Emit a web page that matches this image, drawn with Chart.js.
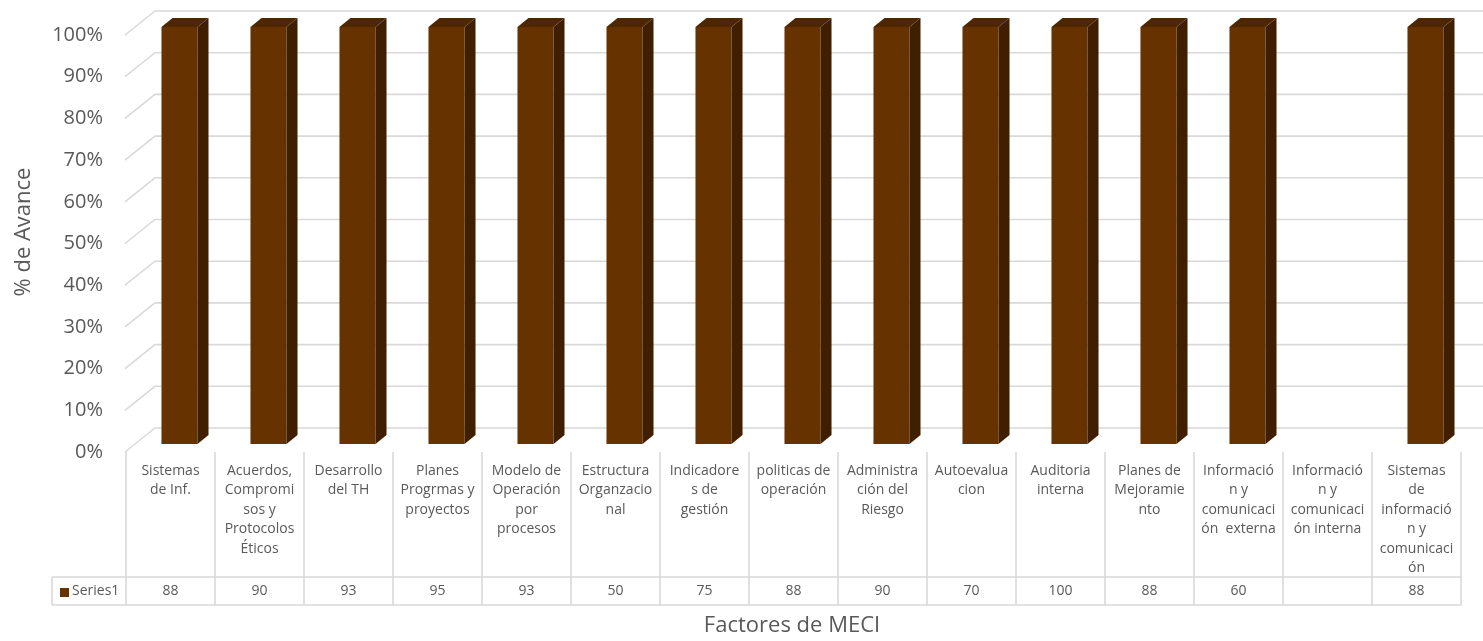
<!DOCTYPE html>
<html>
<head>
<meta charset="utf-8">
<script src="https://cdn.jsdelivr.net/npm/chart.js@4/dist/chart.umd.min.js"></script>
<style>
  html, body { margin: 0; padding: 0; background: #ffffff; }
  #wrap { width: 1483px; height: 641px; }
</style>
</head>
<body>
<div id="wrap"><canvas id="c" width="1483" height="641"></canvas></div>
<script>
// Factores de MECI — labels split the way the table cells wrap them
const categories = [
  ["Sistemas", "de Inf."],
  ["Acuerdos,", "Compromi", "sos y", "Protocolos", "Éticos"],
  ["Desarrollo", "del TH"],
  ["Planes", "Progrmas y", "proyectos"],
  ["Modelo de", "Operación", "por", "procesos"],
  ["Estructura", "Organzacio", "nal"],
  ["Indicadore", "s de", "gestión"],
  ["politicas de", "operación"],
  ["Administra", "ción del", "Riesgo"],
  ["Autoevalua", "cion"],
  ["Auditoria", "interna"],
  ["Planes de", "Mejoramie", "nto"],
  ["Informació", "n y", "comunicaci", "ón  externa"],
  ["Informació", "n y", "comunicaci", "ón interna"],
  ["Sistemas", "de", "informació", "n y", "comunicaci", "ón"]
];
const seriesName = "Series1";
const series1 = [88, 90, 93, 95, 93, 50, 75, 88, 90, 70, 100, 88, 60, null, 88];
const yTickValues = [0, 0.1, 0.2, 0.3, 0.4, 0.5, 0.6, 0.7, 0.8, 0.9, 1];
const xTitle = "Factores de MECI";
const yTitle = "% de Avance";

const FONT = "'Open Sans', 'Liberation Sans', sans-serif";
const TEXT = "#595959";
const GRID = "#d9d9d9";
const FRONT = "#663300";
const SIDE = "#3f1f00";
const TOP = "#4e2700";

// 3D geometry of the plot box
const wallDX = 30, wallDY = 24;   // back wall offset
const barDX = 9, barDY = 8;       // bars stand a little behind the front edge
const sideDX = 11, sideDY = 9;    // column depth

const threeD = {
  id: "threeD",
  beforeDatasetsDraw(chart) {
    const { ctx, chartArea: a } = chart;
    const ys = chart.scales.y;
    ctx.save();
    ctx.strokeStyle = GRID;
    ctx.lineWidth = 1.6;
    ys.ticks.forEach(t => {
      const y = ys.getPixelForValue(t.value);
      ctx.beginPath();
      ctx.moveTo(a.left - 1, y);
      ctx.lineTo(a.left - 1 + wallDX, y - wallDY);
      ctx.lineTo(chart.width + 10, y - wallDY);
      ctx.stroke();
    });
    ctx.restore();
    ctx.save();
    ctx.translate(barDX, -barDY);
  },
  afterDatasetsDraw(chart) {
    const { ctx, chartArea: a } = chart;
    ctx.restore();
    const meta = chart.getDatasetMeta(0);
    meta.data.forEach((el, i) => {
      if (series1[i] == null) return;
      const p = el.getProps(["x", "y", "base", "width"], true);
      const x0 = p.x - p.width / 2 + barDX;
      const x1 = p.x + p.width / 2 + barDX;
      const top = Math.max(p.y, a.top) - barDY;
      const bot = p.base - barDY;
      ctx.fillStyle = SIDE;
      ctx.beginPath();
      ctx.moveTo(x1, top);
      ctx.lineTo(x1 + sideDX, top - sideDY);
      ctx.lineTo(x1 + sideDX, bot - sideDY);
      ctx.lineTo(x1, bot);
      ctx.closePath();
      ctx.fill();
      ctx.fillStyle = TOP;
      ctx.beginPath();
      ctx.moveTo(x0, top);
      ctx.lineTo(x1, top);
      ctx.lineTo(x1 + sideDX, top - sideDY);
      ctx.lineTo(x0 + sideDX, top - sideDY);
      ctx.closePath();
      ctx.fill();
    });
  },
  afterDraw(chart) {
    const { ctx, chartArea: a } = chart;
    const xs = chart.scales.x;
    const n = categories.length;
    const cw = (a.right - a.left) / n;
    const rowTop = a.bottom;
    const valTop = 577, valBot = 605, legLeft = 52;

    // data table grid
    ctx.save();
    ctx.strokeStyle = GRID;
    ctx.lineWidth = 1.6;
    ctx.beginPath();
    for (let i = 0; i <= n; i++) {
      const x = a.left + i * cw;
      ctx.moveTo(x, rowTop);
      ctx.lineTo(x, valBot);
    }
    ctx.moveTo(legLeft, valTop); ctx.lineTo(a.right, valTop);
    ctx.moveTo(legLeft, valBot); ctx.lineTo(a.right, valBot);
    ctx.moveTo(legLeft, valTop); ctx.lineTo(legLeft, valBot);
    ctx.stroke();

    // category labels and values
    ctx.fillStyle = TEXT;
    ctx.font = "14px " + FONT;
    ctx.textAlign = "center";
    ctx.textBaseline = "middle";
    categories.forEach((lines, i) => {
      const cx = xs.getPixelForValue(i);
      lines.forEach((ln, k) => ctx.fillText(ln, cx, 471 + k * 19.5));
      if (series1[i] != null) ctx.fillText(String(series1[i]), cx, 591.5);
    });

    // legend key
    ctx.fillStyle = FRONT;
    ctx.fillRect(60, 588, 9, 9);
    ctx.fillStyle = TEXT;
    ctx.textAlign = "left";
    ctx.fillText(seriesName, 72, 591.5);

    // axis titles
    ctx.font = "22px " + FONT;
    ctx.textAlign = "center";
    ctx.fillText(xTitle, 792, 626);
    ctx.translate(24, 232);
    ctx.rotate(-Math.PI / 2);
    ctx.fillText(yTitle, 0, 0);
    ctx.restore();
  }
};

new Chart(document.getElementById("c"), {
  type: "bar",
  data: {
    labels: categories,
    datasets: [{
      label: seriesName,
      data: series1,
      backgroundColor: FRONT,
      borderWidth: 0,
      barPercentage: 0.405,
      categoryPercentage: 1,
      clip: 0
    }]
  },
  options: {
    responsive: false,
    animation: false,
    events: [],
    layout: { padding: { top: 33, right: 22, bottom: 189, left: 0 } },
    plugins: { legend: { display: false }, tooltip: { enabled: false } },
    scales: {
      x: { display: false, offset: true },
      y: {
        min: 0, max: 1,
        afterBuildTicks(s) { s.ticks = yTickValues.map(v => ({ value: v })); },
        afterFit(s) { s.width = 126; },
        grid: { display: false, drawTicks: false },
        border: { display: false },
        ticks: {
          padding: 23,
          color: TEXT,
          font: { family: FONT, size: 20 },
          callback: v => Math.round(v * 100) + "%"
        }
      }
    }
  },
  plugins: [threeD]
});
</script>
</body>
</html>
